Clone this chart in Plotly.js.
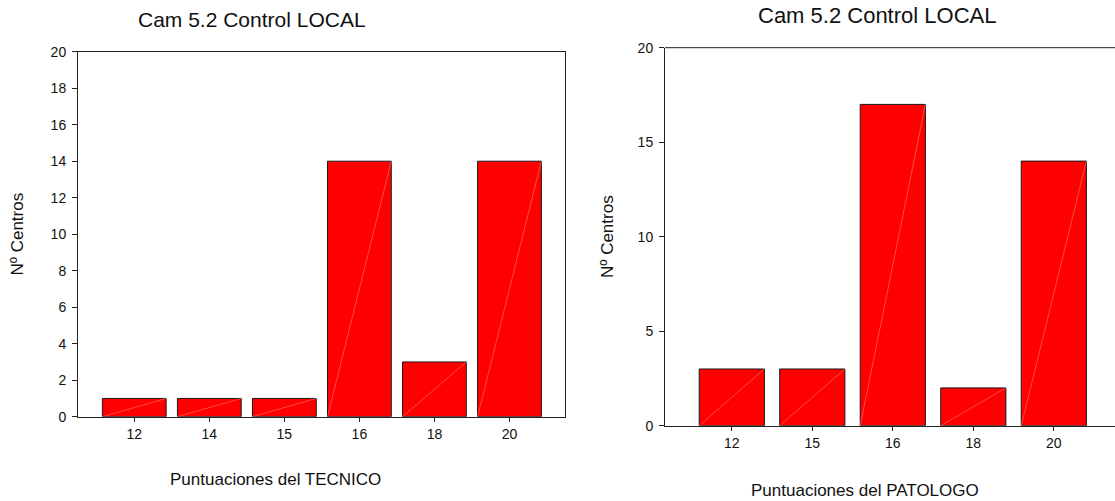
<!DOCTYPE html>
<html>
<head>
<meta charset="utf-8">
<script src="https://cdn.plot.ly/plotly-3.0.1.min.js"></script>
<style>html,body{margin:0;padding:0;background:#fff}#chart{width:1115px;height:501px}</style>
</head>
<body>
<div id="chart"></div>
<script>
// Data
const tecnicoLabels = ["12", "14", "15", "16", "18", "20"];
const tecnicoCounts = [1, 1, 1, 14, 3, 14];
const patologoLabels = ["12", "15", "16", "18", "20"];
const patologoCounts = [3, 3, 17, 2, 14];
const chartTitle = "Cam 5.2 Control LOCAL";
const yTitle = "Nº Centros";
const xTitleLeft = "Puntuaciones del TECNICO";
const xTitleRight = "Puntuaciones del PATOLOGO";

const W = 1115, H = 501;
const FONT = "Liberation Sans, Arial, sans-serif";
const idxL = tecnicoLabels.map((_, i) => i);
const idxR = patologoLabels.map((_, i) => i);
const wL = 0.85, wR = 0.81;

function diag(idx, vals, w) {
  const xs = [], ys = [];
  idx.forEach((i, k) => { xs.push(i - w / 2, i + w / 2, null); ys.push(0, vals[k], null); });
  return {xs, ys};
}
const dL = diag(idxL, tecnicoCounts, wL);
const dR = diag(idxR, patologoCounts, wR);

const barStyle = {color: "#ff0000", line: {color: "#1a1a1a", width: 1}};
const diagLine = {color: "rgba(255,160,160,0.75)", width: 0.6};
const traces = [
  {type: "bar", x: idxL, y: tecnicoCounts, width: wL, marker: barStyle, xaxis: "x", yaxis: "y", hoverinfo: "y"},
  {type: "scatter", mode: "lines", x: dL.xs, y: dL.ys, line: diagLine, xaxis: "x", yaxis: "y", hoverinfo: "skip"},
  {type: "bar", x: idxR, y: patologoCounts, width: wR, marker: barStyle, xaxis: "x2", yaxis: "y2", hoverinfo: "y"},
  {type: "scatter", mode: "lines", x: dR.xs, y: dR.ys, line: diagLine, xaxis: "x2", yaxis: "y2", hoverinfo: "skip"}
];

const tickFont = {family: FONT, size: 14, color: "#111"};
const titleFont = {family: FONT, size: 17, color: "#111"};
const axLine = {showline: true, linecolor: "#222", linewidth: 1, showgrid: false, zeroline: false, ticks: "outside", tickcolor: "#222", tickfont: tickFont};

const layout = {
  width: W, height: H,
  margin: {l: 0, r: 0, t: 0, b: 0},
  paper_bgcolor: "#fff", plot_bgcolor: "#fff",
  showlegend: false,
  font: {family: FONT},
  xaxis: Object.assign({}, axLine, {
    domain: [78 / W, 565 / W], anchor: "y", range: [-0.75, 5.74],
    tickmode: "array", tickvals: idxL, ticktext: tecnicoLabels, ticklen: 4, mirror: true
  }),
  yaxis: Object.assign({}, axLine, {
    domain: [1 - 416.7 / H, 1 - 51.7 / H], anchor: "x", range: [0, 20], dtick: 2, ticklen: 5, mirror: true,
    ticklabelstandoff: 3,
    title: {text: yTitle, font: titleFont, standoff: 22}
  }),
  xaxis2: Object.assign({}, axLine, {
    domain: [665 / W, 1], anchor: "y2", range: [-0.83, 4.76],
    tickmode: "array", tickvals: idxR, ticktext: patologoLabels, ticklen: 4
  }),
  yaxis2: Object.assign({}, axLine, {
    domain: [1 - 425.7 / H, 1 - 47.7 / H], anchor: "x2", range: [0, 20], dtick: 5, ticklen: 5,
    ticklabelstandoff: 3,
    title: {text: yTitle, font: titleFont, standoff: 19}
  }),
  shapes: [
    {type: "line", xref: "x2 domain", yref: "y2 domain", x0: 0, x1: 1, y0: 1, y1: 1, line: {color: "#222", width: 1}}
  ],
  annotations: [
    {text: chartTitle, xref: "paper", yref: "paper", x: 252 / W, y: 1 - 20 / H, xanchor: "center", yanchor: "middle", showarrow: false, font: {family: FONT, size: 21, color: "#111"}},
    {text: chartTitle, xref: "paper", yref: "paper", x: 877 / W, y: 1 - 15 / H, xanchor: "center", yanchor: "middle", showarrow: false, font: {family: FONT, size: 22, color: "#111"}},
    {text: xTitleLeft, xref: "paper", yref: "paper", x: 275 / W, y: 1 - 479 / H, xanchor: "center", yanchor: "middle", showarrow: false, font: titleFont},
    {text: xTitleRight, xref: "paper", yref: "paper", x: 865 / W, y: 1 - 490 / H, xanchor: "center", yanchor: "middle", showarrow: false, font: titleFont}
  ]
};

Plotly.newPlot("chart", traces, layout, {displayModeBar: false, staticPlot: true});
</script>
</body>
</html>
